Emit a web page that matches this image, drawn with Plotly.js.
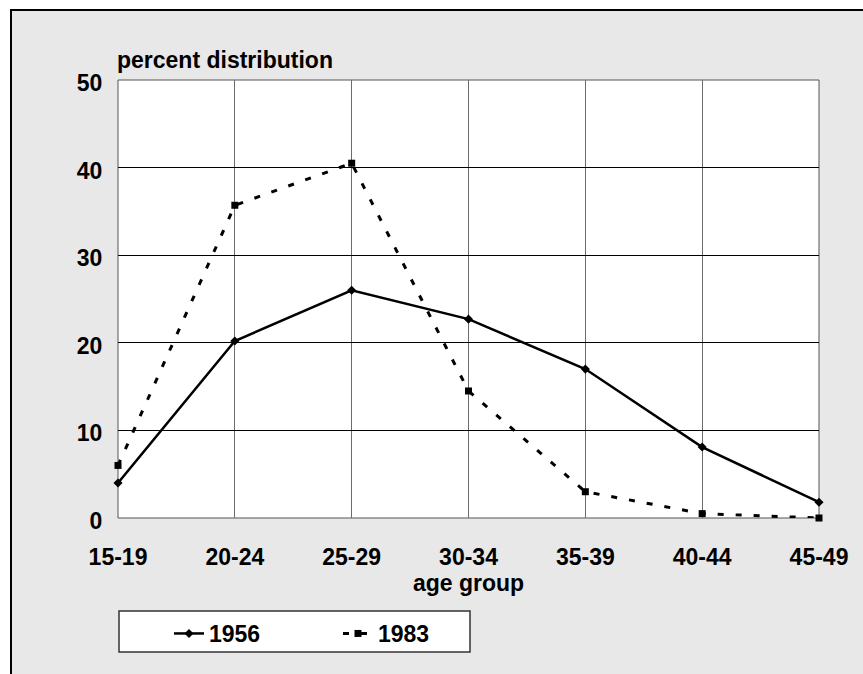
<!DOCTYPE html>
<html>
<head>
<meta charset="utf-8">
<script src="https://cdn.plot.ly/plotly-3.0.1.min.js"></script>
<style>html,body{margin:0;padding:0;background:#fff;}#chart{width:863px;height:674px;}</style>
</head>
<body>
<div id="chart"></div>
<script>
var ageGroups = ["15-19", "20-24", "25-29", "30-34", "35-39", "40-44", "45-49"];
var values1956 = [4.0, 20.2, 26.0, 22.7, 17.0, 8.1, 1.8];
var values1983 = [6.0, 35.7, 40.5, 14.5, 3.0, 0.5, 0.0];
var yTicks = [0, 10, 20, 30, 40, 50];

var W = 863, H = 674, L = 118, R = 44, T = 80, B = 156;
var pw = W - L - R, ph = H - T - B;
function px(x) { return (x - L) / pw; }
function py(y) { return (H - B - y) / ph; }

var FONT = 'Liberation Sans, Arial, sans-serif';
var FS = 23;

var traces = [
  {
    x: ageGroups, y: values1956, name: '1956', type: 'scatter', mode: 'lines+markers',
    line: {color: '#000', width: 2.5},
    marker: {symbol: 'diamond', size: 7, color: '#000'},
    cliponaxis: false
  },
  {
    x: ageGroups, y: values1983, name: '1983', type: 'scatter', mode: 'lines+markers',
    line: {color: '#000', width: 3, dash: '6px,12px'},
    marker: {symbol: 'square', size: 7, color: '#000'},
    cliponaxis: false
  }
];

var layout = {
  width: W, height: H,
  margin: {l: L, r: R, t: T, b: B, pad: 0},
  paper_bgcolor: '#ffffff',
  plot_bgcolor: '#ffffff',
  font: {family: FONT, size: FS, color: '#000', weight: 700},
  showlegend: true,
  legend: {
    orientation: 'h', x: px(169), y: py(612), xanchor: 'left', yanchor: 'top',
    bgcolor: 'rgba(0,0,0,0)', borderwidth: 0,
    font: {family: FONT, size: FS, color: '#000', weight: 700},
    entrywidth: 124, entrywidthmode: 'pixels'
  },
  xaxis: {
    type: 'category', range: [0, 6],
    showgrid: true, gridcolor: '#6b6b6b', gridwidth: 1,
    zeroline: false, showline: false,
    ticks: 'outside', ticklen: 18, tickcolor: 'rgba(0,0,0,0)',
    tickfont: {family: FONT, size: FS, color: '#000', weight: 700},
    title: {text: 'age group', font: {family: FONT, size: FS, color: '#000', weight: 700}, standoff: 0},
    fixedrange: true
  },
  yaxis: {
    range: [0, 50], tickvals: yTicks,
    showgrid: true, gridcolor: '#000000', gridwidth: 1,
    zeroline: false, showline: false,
    ticks: 'outside', ticklen: 10, tickcolor: 'rgba(0,0,0,0)',
    ticklabelshift: 3,
    tickfont: {family: FONT, size: FS, color: '#000', weight: 700},
    fixedrange: true
  },
  shapes: [
    {type: 'rect', xref: 'paper', yref: 'paper', layer: 'below',
     x0: px(11), x1: px(880), y0: py(690), y1: py(10),
     fillcolor: '#e8e8e8', line: {color: '#000', width: 2}},
    {type: 'rect', xref: 'paper', yref: 'paper', layer: 'below',
     x0: 0, x1: 1, y0: 0, y1: 1,
     fillcolor: '#ffffff', line: {color: '#555', width: 1}},
    {type: 'rect', xref: 'paper', yref: 'paper', layer: 'below',
     x0: px(119), x1: px(470), y0: py(652), y1: py(611),
     fillcolor: '#ffffff', line: {color: '#333', width: 1.5}}
  ],
  annotations: [
    {text: 'percent distribution', xref: 'paper', yref: 'paper', x: 0, y: 1,
     xanchor: 'left', yanchor: 'bottom', yshift: 5, xshift: -3, showarrow: false,
     font: {family: FONT, size: FS, color: '#000', weight: 700}}
  ]
};

Plotly.newPlot('chart', traces, layout, {displayModeBar: false, staticPlot: true});
</script>
</body>
</html>
